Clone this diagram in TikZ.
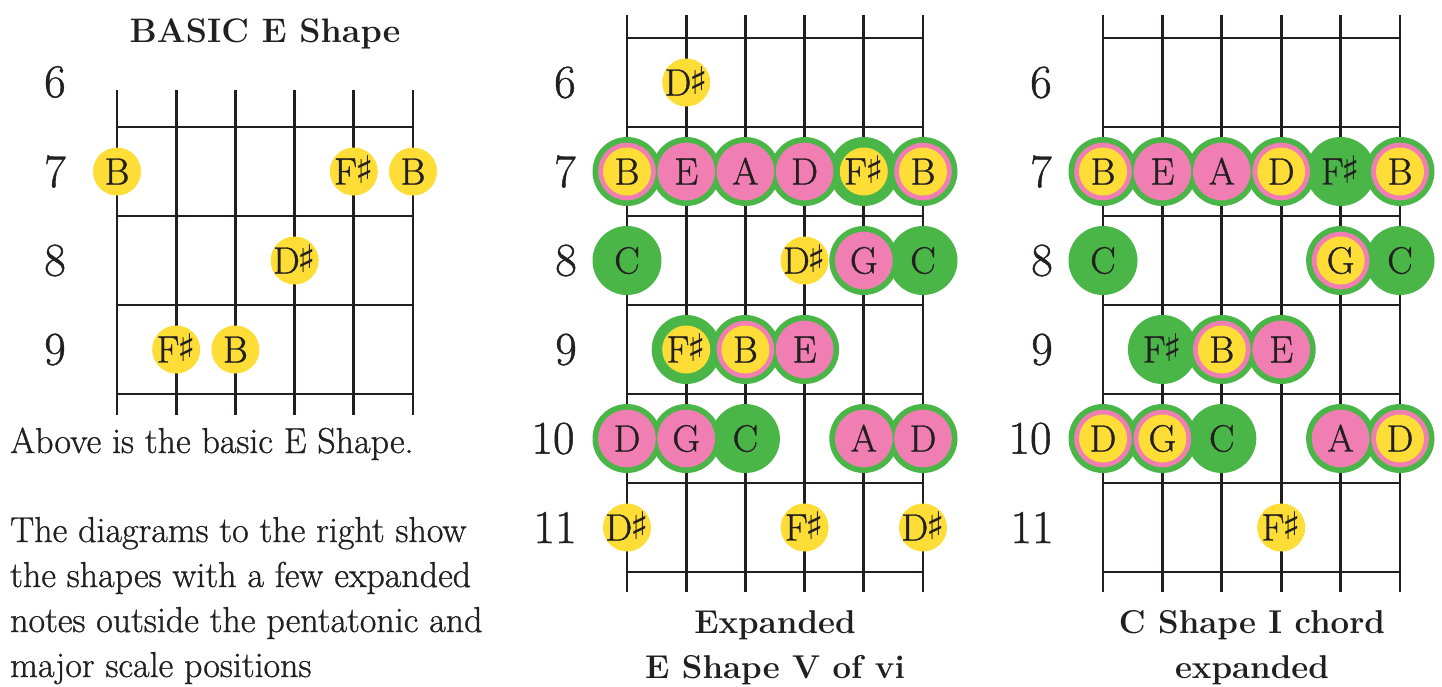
\documentclass[tikz,border=0pt]{standalone}
\usepackage{fontspec}
\newfontfamily\symfam{DejaVu Sans}
\newfontfamily\heavyfam{Latin Modern Roman}[FakeBold=0.9]
\definecolor{ink}{HTML}{231F20}
\definecolor{ngreen}{HTML}{4AB648}
\definecolor{npink}{HTML}{F07EB2}
\definecolor{nyellow}{HTML}{FEDD36}
\tikzset{
  gridline/.style={draw=ink, line width=2.8pt},
  fretnum/.style={text=ink, inner sep=0pt, font=\heavyfam\fontsize{47}{47}\selectfont},
  notelab/.style={text=ink, inner sep=0pt, anchor=base, font=\heavyfam\fontsize{38}{38}\selectfont},
  titlelab/.style={text=ink, inner sep=0pt, anchor=base, font=\fontsize{34}{34}\selectfont\bfseries},
  caplab/.style={text=ink, inner sep=0pt, anchor=base, font=\fontsize{33}{33}\selectfont\bfseries},
  bodylab/.style={text=ink, inner sep=0pt, anchor=base west, font=\heavyfam\fontsize{36}{36}\selectfont},
}
\newcommand{\shp}{{\symfam\fontsize{38}{38}\selectfont\kern-2pt\raisebox{1pt}{♯}}}
% x / y / green / pink / yellow / label / name
\def\notelist{%
117/171.5/0/0/1/B/la1, 353.8/171.5/0/0/1/F\shp/la2, 413/171.5/0/0/1/B/la3,
294.6/260.5/0/0/1/D\shp/la4, 176.2/349.5/0/0/1/F\shp/la5, 235.4/349.5/0/0/1/B/la6,
686.2/82.5/0/0/1/D\shp/m61,
627/171.5/1/1/1/B/m71, 686.2/171.5/1/1/0/E/m72, 745.4/171.5/1/1/0/A/m73,
804.6/171.5/1/1/0/D/m74, 863.8/171.5/1/0/1/F\shp/m75, 923/171.5/1/1/1/B/m76,
627/260.5/1/0/0/C/m81, 804.6/260.5/0/0/1/D\shp/m82, 863.8/260.5/1/1/0/G/m83, 923/260.5/1/0/0/C/m84,
686.2/349.5/1/0/1/F\shp/m91, 745.4/349.5/1/1/1/B/m92, 804.6/349.5/1/1/0/E/m93,
627/438.5/1/1/0/D/m101, 686.2/438.5/1/1/0/G/m102, 745.4/438.5/1/0/0/C/m103,
863.8/438.5/1/1/0/A/m104, 923/438.5/1/1/0/D/m105,
627/527.5/0/0/1/D\shp/m111, 804.6/527.5/0/0/1/F\shp/m112, 923/527.5/0/0/1/D\shp/m113,
1103/171.5/1/1/1/B/r71, 1162.4/171.5/1/1/0/E/r72, 1221.8/171.5/1/1/0/A/r73,
1281.2/171.5/1/1/1/D/r74, 1340.6/171.5/1/0/0/F\shp/r75, 1400/171.5/1/1/1/B/r76,
1103/260.5/1/0/0/C/r81, 1340.6/260.5/1/1/1/G/r82, 1400/260.5/1/0/0/C/r83,
1162.4/349.5/1/0/0/F\shp/r91, 1221.8/349.5/1/1/1/B/r92, 1281.2/349.5/1/1/0/E/r93,
1103/438.5/1/1/1/D/r101, 1162.4/438.5/1/1/1/G/r102, 1221.8/438.5/1/0/0/C/r103,
1340.6/438.5/1/1/0/A/r104, 1400/438.5/1/1/1/D/r105,
1281.2/527.5/0/0/1/F\shp/r111}
\begin{document}
\begin{tikzpicture}[x=1pt,y=-1pt]
\useasboundingbox[fill=white] (0,0) rectangle (1442,686);
% left grid
\foreach \i in {0,...,5}
  \draw[gridline] ({117+59.2*\i},90) -- ({117+59.2*\i},415);
\foreach \f in {127,216,305,394}
  \draw[gridline] (117,\f) -- (413,\f);
% middle grid
\foreach \i in {0,...,5}
  \draw[gridline] ({627+59.2*\i},15) -- ({627+59.2*\i},592);
\foreach \k in {0,...,6}
  \draw[gridline] (627,{38+89*\k}) -- (923,{38+89*\k});
% right grid
\foreach \i in {0,...,5}
  \draw[gridline] ({1103+59.4*\i},15) -- ({1103+59.4*\i},592);
\foreach \k in {0,...,6}
  \draw[gridline] (1103,{38+89*\k}) -- (1400,{38+89*\k});
% fret numbers
\node[fretnum] (lf6) at (55,82) {6};
\node[fretnum] (lf7) at (55,171.5) {7};
\node[fretnum] (lf8) at (55,260.5) {8};
\node[fretnum] (lf9) at (55,349.5) {9};
\node[fretnum] (mf6) at (565,82.5) {6};
\node[fretnum] (mf7) at (565,171.5) {7};
\node[fretnum] (mf8) at (566,260.5) {8};
\node[fretnum] (mf9) at (566,349.5) {9};
\node[fretnum] (mf10) at (553,438.5) {10};
\node[fretnum] (mf11) at (555,527.5) {11};
\node[fretnum] (rf6) at (1041,82.5) {6};
\node[fretnum] (rf7) at (1041,171.5) {7};
\node[fretnum] (rf8) at (1042,260.5) {8};
\node[fretnum] (rf9) at (1042,349.5) {9};
\node[fretnum] (rf10) at (1030,438.5) {10};
\node[fretnum] (rf11) at (1032,527.5) {11};
% note discs, layered
\foreach \x/\y/\g/\p/\q/\l/\n in \notelist {
  \ifnum\g=1 \fill[ngreen] (\x,\y) circle (34.5); \fi }
\foreach \x/\y/\g/\p/\q/\l/\n in \notelist {
  \ifnum\p=1 \fill[npink] (\x,\y) circle (28.8); \fi }
\foreach \x/\y/\g/\p/\q/\l/\n in \notelist {
  \ifnum\q=1 \fill[nyellow] (\x,\y) circle (24); \fi }
\foreach \x/\y/\g/\p/\q/\l/\n in \notelist {
  \node[notelab] (\n) at (\x,\y+13) {\l}; }
% texts
\node[titlelab] (title) at (265,42) {BASIC E Shape};
\node[bodylab] (t1) at (10,453) {Above is the basic E Shape.};
\node[bodylab] (t2) at (10,542) {The diagrams to the right show};
\node[bodylab] (t3) at (10,587) {the shapes with a few expanded};
\node[bodylab] (t4) at (10,632) {notes outside the pentatonic and};
\node[bodylab] (t5) at (10,677) {major scale positions};
\node[caplab] (c1) at (775,633) {Expanded};
\node[caplab] (c2) at (775,678) {E Shape V of vi};
\node[caplab] (c3) at (1252,633) {C Shape I chord};
\node[caplab] (c4) at (1252,678) {expanded};
\end{tikzpicture}
\end{document}
